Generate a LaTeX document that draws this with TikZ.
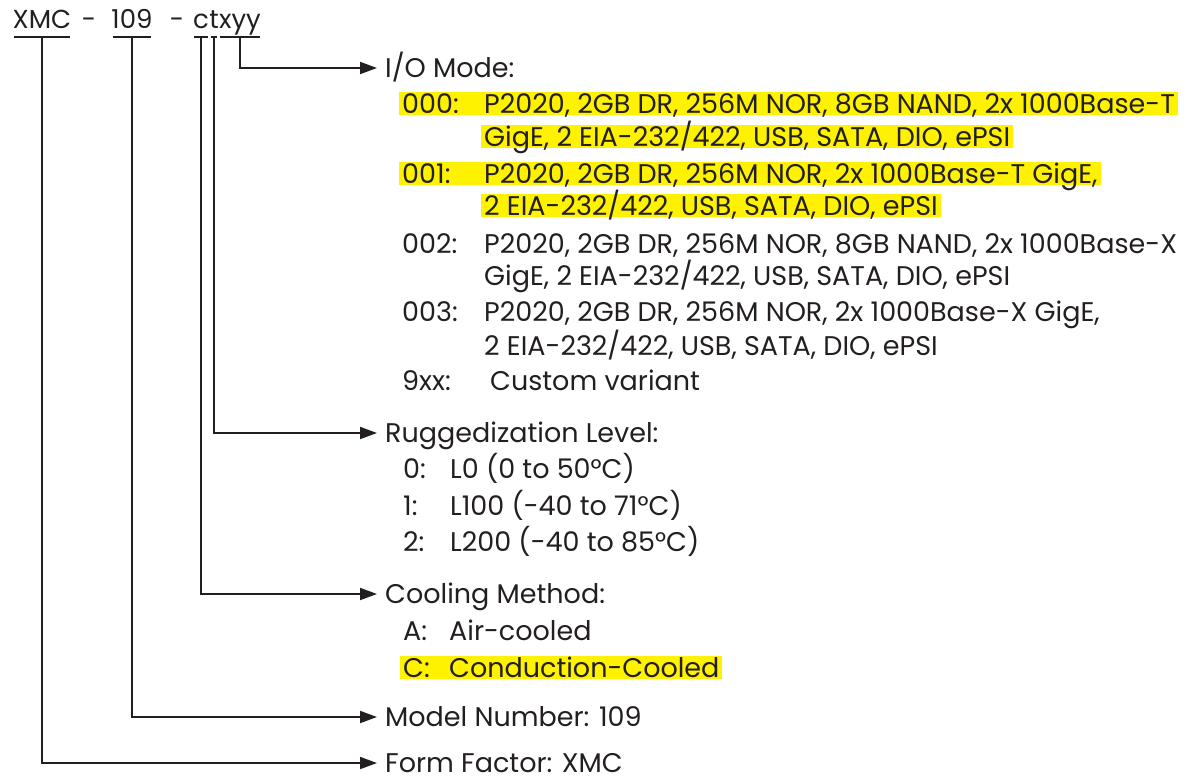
\documentclass[tikz,border=0pt]{standalone}
\usepackage{fontspec}
\setmainfont{Poppins}
\usepackage{xcolor}
\definecolor{codeink}{HTML}{231F20}
\definecolor{codehl}{HTML}{FFF200}
\usetikzlibrary{arrows.meta, positioning}

% fixed-width code column in front of an option text
\newcommand{\codetag}[2]{\makebox[#1][l]{#2}}

\begin{document}
\begin{tikzpicture}[
    x=1pt, y=-1pt,
    every node/.style={text=codeink, font=\fontsize{27}{32}\selectfont},
    part/.style={anchor=base, inner sep=0pt, text height=17pt, text depth=9pt, font=\fontsize{26}{30}\selectfont},
    head/.style={anchor=base west, inner sep=0pt, text height=18pt, text depth=0pt},
    opt/.style={anchor=base west, inner xsep=3pt, inner ysep=0pt, text height=21pt, text depth=2pt},
    hlopt/.style={opt, fill=codehl},
    flow/.style={-{Triangle[length=17pt, width=12pt]}, line width=1.8pt, draw=codeink, shorten >=8pt},
    uline/.style={line width=2pt, draw=codeink, shorten <=1.5pt, shorten >=1.5pt},
]
\useasboundingbox (0,0) rectangle (1197,782);

% Part number
\node[part] (hdrform) at (42,28) {XMC};
\node[part] (dash1) at (89,28) {-};
\node[part] (hdrmodel) at (132,28) {109};
\node[part] (dash2) at (177,28) {-};
\node[part] (hdrcool) at (201,28) {c};
\node[part, anchor=base west] (hdrrug) at (hdrcool.base east) {t};
\node[part, anchor=base west] (hdrio) at (hdrrug.base east) {xyy};

\foreach \p in {hdrform, hdrmodel, hdrcool, hdrrug, hdrio}
    \draw[uline] (\p.south west) -- (\p.south east);

% I/O mode
\node[head] (iohead) at (385,77) {I/O Mode:};
\node[hlopt] (io000a) at (399,113) {\codetag{82pt}{000:}P2020, 2GB DR, 256M NOR, 8GB NAND, 2x 1000Base-T};
\node[hlopt] (io000b) at (481,146) {GigE, 2 EIA-232/422, USB, SATA, DIO, ePSI};
\node[hlopt] (io001a) at (399,183) {\codetag{82pt}{001:}P2020, 2GB DR, 256M NOR, 2x 1000Base-T GigE,};
\node[hlopt] (io001b) at (481,215) {2 EIA-232/422, USB, SATA, DIO, ePSI};
\node[opt] (io002a) at (399,253) {\codetag{82pt}{002:}P2020, 2GB DR, 256M NOR, 8GB NAND, 2x 1000Base-X};
\node[opt] (io002b) at (481,285) {GigE, 2 EIA-232/422, USB, SATA, DIO, ePSI};
\node[opt] (io003a) at (399,321) {\codetag{82pt}{003:}P2020, 2GB DR, 256M NOR, 2x 1000Base-X GigE,};
\node[opt] (io003b) at (481,355) {2 EIA-232/422, USB, SATA, DIO, ePSI};
\node[opt] (io9xx) at (399,390) {\codetag{88pt}{9xx:}Custom variant};

% Ruggedization
\node[head] (rughead) at (385,442) {Ruggedization Level:};
\node[opt] (rug0) at (400,478) {\codetag{47pt}{0:}L0 (0 to 50°C)};
\node[opt] (rug1) at (400,515) {\codetag{47pt}{1:}L100 (-40 to 71°C)};
\node[opt] (rug2) at (400,551) {\codetag{47pt}{2:}L200 (-40 to 85°C)};

% Cooling
\node[head] (coolhead) at (385,603) {Cooling Method:};
\node[opt] (coolA) at (400,640) {\codetag{46pt}{A:}Air-cooled};
\node[hlopt] (coolC) at (400,677) {\codetag{46pt}{C:}Conduction-Cooled};

% Model and form factor
\node[head] (modelhead) at (385,726) {Model Number: 109};
\node[head] (formhead) at (385,772) {Form Factor: XMC};

% Connectors
\draw[flow] (hdrio.south) |- (iohead.west);
\draw[flow] (hdrrug.south) |- (rughead.west);
\draw[flow] (hdrcool.south) |- (coolhead.west);
\draw[flow] (hdrmodel.south) |- (modelhead.west);
\draw[flow] (hdrform.south) |- (formhead.west);

\end{tikzpicture}
\end{document}
